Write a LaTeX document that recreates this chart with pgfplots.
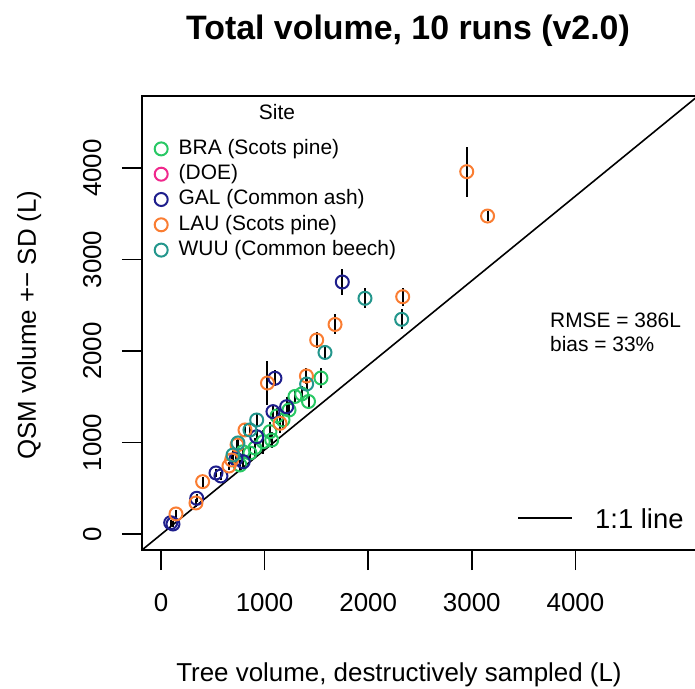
\documentclass[border=0pt]{standalone}
\usepackage{fontspec}
\setmainfont{Liberation Sans}
\usepackage{pgfplots}
\pgfplotsset{compat=1.18}

\definecolor{bra}{RGB}{40,200,100}
\definecolor{doe}{RGB}{240,40,140}
\definecolor{gal}{RGB}{30,30,140}
\definecolor{lau}{RGB}{250,125,50}
\definecolor{wuu}{RGB}{35,150,140}

% x = destructive volume, y = QSM volume, e = SD
\pgfplotstableread{
x y e
1544 1705 109
1424 1448 87
1358 1530 87
1293 1503 87
1178 1246 87
1052 1118 109
987 1009 131
907 940 109
1069 1027 87
792 899 66
859 885 66
1120 1290 87
763 754 55
1236 1355 87
}\tabBRA
\pgfplotstableread{
x y e
1750 2754 137
1100 1702 87
1213 1391 109
1081 1337 66
924 1063 87
794 790 55
724 820 55
579 634 44
531 667 44
345 390 44
94 123 33
116 109 33
}\tabGAL
\pgfplotstableread{
x y e
2951 3960 273
3152 3475 55
2333 2593 98
1680 2290 109
1503 2120 87
1028 1650 240
1404 1727 87
1149 1210 109
811 1137 66
734 973 55
682 809 55
656 743 44
402 572 55
338 339 44
145 219 44
}\tabLAU
\pgfplotstableread{
x y e
1969 2576 109
2323 2346 109
1583 1984 87
1406 1639 66
859 1137 66
743 995 55
695 863 55
924 1246 66
}\tabWUU

\begin{document}
\begin{tikzpicture}
\useasboundingbox (-142bp,-139bp) rectangle (553bp,550bp);
\begin{axis}[
    width=556bp, height=454bp, scale only axis,
    xmin=-183, xmax=5183, ymin=-175, ymax=4787,
    xtick={0,1000,2000,3000,4000}, ytick={0,1000,2000,3000,4000},
    tick pos=left, tick align=outside, major tick length=20bp,
    axis line style={line width=1.5bp},
    every tick/.style={black, line width=1.5bp},
    ticklabel style={font=\fontsize{26}{30}\selectfont},
    /pgf/number format/assume math mode=true,
    /pgf/number format/set thousands separator={},
    yticklabel style={rotate=90, anchor=south},
    yticklabel shift=17bp,
    xticklabel shift=20bp,
    mark size=6.5bp,
    legend image code/.code={
        \draw[#1] plot coordinates {(0bp,0bp)};
        \path[draw=none, fill=none] (-7bp,-7bp) rectangle (7bp,7bp);
    },
    legend style={at={(axis description cs:0,1)}, anchor=north west,
        xshift=12bp, yshift=-42.7bp, draw=none, fill=none, inner sep=0pt,
        font=\fontsize{21}{25}\selectfont, row sep=5.3bp,
        cells={anchor=west},
        nodes={inner sep=0pt, text height=15.5bp, text depth=4.5bp},
        /tikz/every odd column/.append style={column sep=10.5bp}},
    error bars/y dir=both, error bars/y explicit,
    error bars/error mark=none,
    error bars/error bar style={black, line width=2bp},
]
\addplot[only marks, mark=o, mark options={draw=bra, line width=2bp}]
    table[x=x, y=y, y error=e] {\tabBRA};
\addlegendentry{BRA (Scots pine)}
\addlegendimage{only marks, mark=o, mark options={draw=doe, line width=2bp}}
\addlegendentry{(DOE)}
\addplot[only marks, mark=o, mark options={draw=gal, line width=2bp}]
    table[x=x, y=y, y error=e] {\tabGAL};
\addlegendentry{GAL (Common ash)}
\addplot[only marks, mark=o, mark options={draw=lau, line width=2bp}]
    table[x=x, y=y, y error=e] {\tabLAU};
\addlegendentry{LAU (Scots pine)}
\addplot[only marks, mark=o, mark options={draw=wuu, line width=2bp}]
    table[x=x, y=y, y error=e] {\tabWUU};
\addlegendentry{WUU (Common beech)}
\addplot[black, line width=1.6bp, forget plot] coordinates {(-183,-175) (5183,4787)};
\end{axis}
\node[font=\fontsize{34}{40}\selectfont\bfseries, anchor=base] at (266bp,510.7bp) {Total volume, 10 runs (v2.0)};
\node[font=\fontsize{26}{30}\selectfont, anchor=base] at (257bp,-131.7bp) {Tree volume, destructively sampled (L)};
\node[font=\fontsize{26}{30}\selectfont, rotate=90, anchor=base] at (-106bp,225bp) {QSM volume +− SD (L)};
\node[font=\fontsize{21}{25}\selectfont, anchor=base] at (135bp,430bp) {Site};
\node[font=\fontsize{21}{25}\selectfont, anchor=base west, inner sep=0pt] at (408bp,222.3bp) {RMSE = 386L};
\node[font=\fontsize{21}{25}\selectfont, anchor=base west, inner sep=0pt] at (408bp,198.3bp) {bias = 33\%};
\draw[line width=1.6bp] (376bp,32bp) -- (430bp,32bp);
\node[font=\fontsize{27.5}{32}\selectfont, anchor=base west, inner sep=0pt] at (453bp,21.7bp) {1:1 line};
\end{tikzpicture}
\end{document}
